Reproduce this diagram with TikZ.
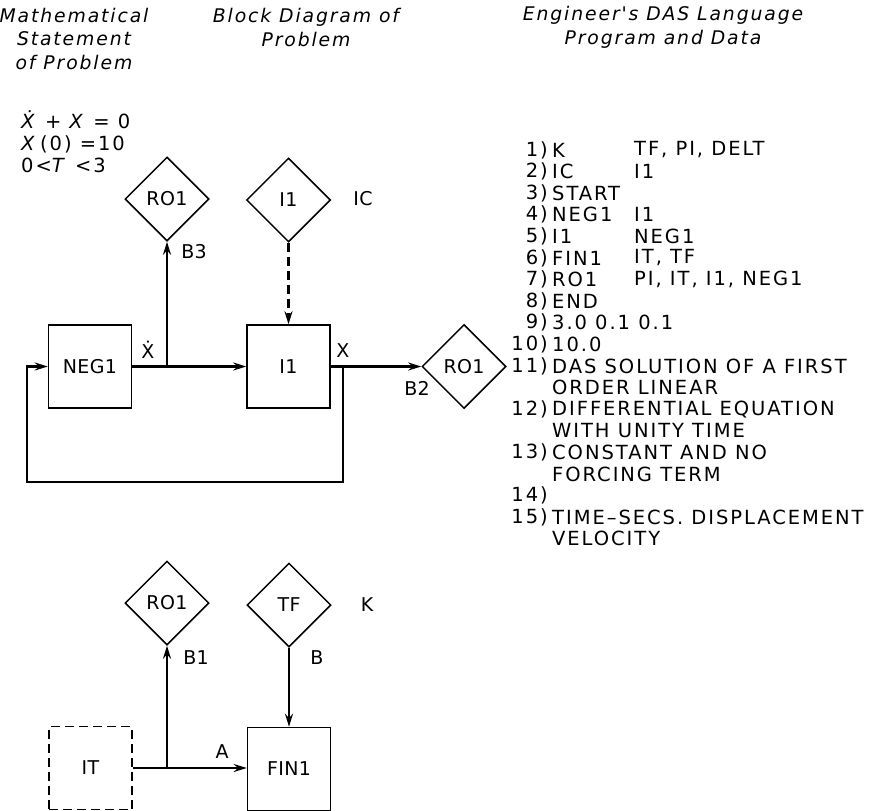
\documentclass[tikz,border=0pt]{standalone}
\usepackage{fontspec}
\setmainfont{DejaVu Sans}
\newfontfamily\lettering[LetterSpace=10]{DejaVu Sans}
\newfontfamily\blocktext[LetterSpace=2]{DejaVu Sans}
\usetikzlibrary{arrows.meta,positioning,shapes.geometric}
\newcommand{\lbfont}{\blocktext\fontsize{19}{22}\selectfont}
\newcommand{\lsfont}{\lettering\fontsize{19.5}{22}\selectfont}
\newcommand{\hdfont}{\lettering\fontsize{18.8}{23.5}\selectfont\itshape}
\tikzset{
  blk/.style={draw, line width=1.5pt, minimum width=83pt, minimum height=83pt,
              inner sep=0pt, font=\lbfont},
  dmd/.style={draw, diamond, aspect=1, line width=1.5pt, minimum width=84pt,
              minimum height=84pt, inner sep=0pt, font=\lbfont},
  arr/.style={-{Stealth[length=13pt,width=8pt]}, line width=2.4pt},
  lbl/.style={font=\lbfont, inner sep=1pt},
  lst/.style={font=\lsfont, inner sep=1pt},
  hdr/.style={font=\hdfont, align=center, inner sep=0pt}}

\begin{document}
\begin{tikzpicture}[x=1pt, y=-1pt]
  \useasboundingbox (0,0) rectangle (886,811);
  % column headings
  \node[hdr] (hmath) at (74,38.5) {Mathematical\\Statement\\of Problem};
  \node[hdr] (hblock) at (306,27.5) {Block Diagram of\\Problem};
  \node[hdr] (heng) at (663,27.5) {Engineer's DAS Language\\Program and Data};
  % statement
  \node[lst, align=left, anchor=west] (eqs) at (20,142)
    {\textit{Ẋ} + \textit{X} = 0\\\textit{X}\,(0) =10\\0<\textit{T} <3};

  % first block diagram
  \node[blk] (neg) at (90,366.5) {NEG1};
  \node[blk] (int) at (288.5,366.5) {I1};
  \node[dmd] (rotop) at (167,199) {RO1};
  \node[dmd] (ic) at (288.5,200) {I1};
  \node[dmd] (roright) at (464,366.5) {RO1};
  \node[lbl] (icl) at (363,199) {IC};
  \coordinate (xd) at (167,366.5);
  \coordinate (xo) at (343,366.5);
  \coordinate (fb) at (27,482);
  \draw[arr] (neg.east) -- (int.west);
  \draw[arr] (xd) -- (rotop.south);
  \draw[arr, dash pattern=on 9pt off 5pt] (ic.south) -- (int.north);
  \draw[arr] (int.east) -- (roright.west);
  \draw[arr] (xo) |- (fb) |- (neg.west);
  \node[lbl] (lxd) at (148,350) {Ẋ};
  \node[lbl] (lx) at (343,351) {X};
  \node[lbl] (lb3) at (194,252) {B3};
  \node[lbl] (lb2) at (417,388) {B2};

  % second block diagram
  \node[dmd] (robot) at (167,603) {RO1};
  \node[dmd] (tf) at (289,605) {TF};
  \node[lbl] (kl) at (367,605) {K};
  \node[blk, dash pattern=on 9pt off 5pt] (it) at (90.5,768) {IT};
  \node[blk] (fin) at (289,769) {FIN1};
  \coordinate (ta) at (167,768);
  \draw[arr] (it.east) -- (fin.west |- it.east);
  \draw[arr] (ta) -- (robot.south);
  \draw[arr] (tf.south) -- (fin.north);
  \node[lbl] (lb1) at (196,658) {B1};
  \node[lbl] (lb) at (317,658) {B};
  \node[lbl] (la) at (222,752) {A};

  % program listing
  \foreach \n/\a/\b [count=\i] in {1)/K/{TF, PI, DELT}, 2)/IC/I1, 3)/START/,
      4)/NEG1/I1, 5)/I1/NEG1, 6)/FIN1/{IT, TF}, 7)/RO1/{PI, IT, I1, NEG1},
      8)/END/, 9)/3.0 0.1 0.1/, 10)/10.0/, 11)/DAS SOLUTION OF A FIRST/,
      /ORDER LINEAR/, 12)/DIFFERENTIAL EQUATION/, /WITH UNITY TIME/,
      13)/CONSTANT AND NO/, /FORCING TERM/, 14)//,
      15)/TIME–SECS. DISPLACEMENT/, /VELOCITY/}{
    \node[lst, anchor=east] (n\i) at (549,150+21.6*\i-21.6) {\n};
    \node[lst, anchor=west] (a\i) at (551,150+21.6*\i-21.6) {\a};
    \node[lst, anchor=west] (b\i) at (633,150+21.6*\i-21.6) {\b};
  }
\end{tikzpicture}
\end{document}
